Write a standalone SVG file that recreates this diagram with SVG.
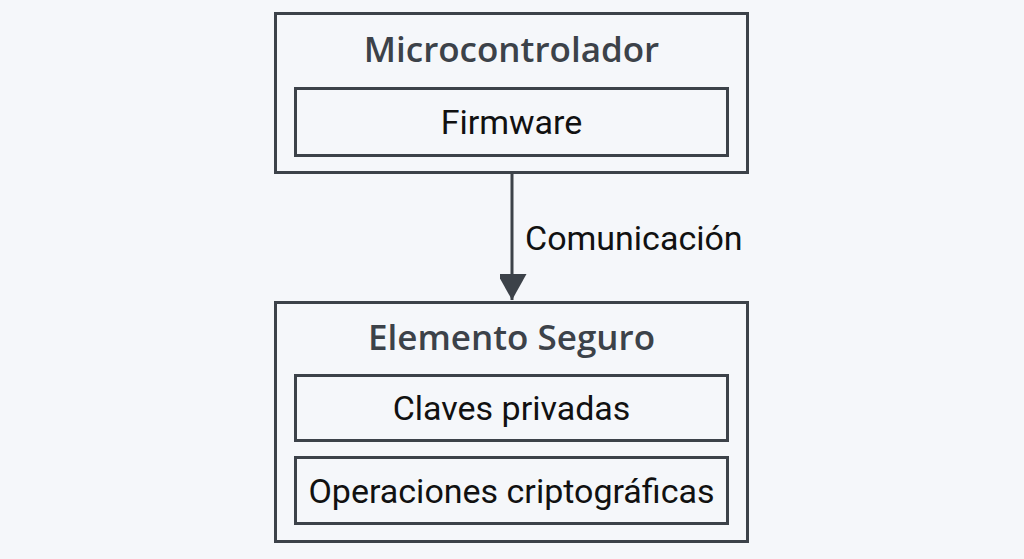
<svg xmlns="http://www.w3.org/2000/svg" width="1024" height="559" viewBox="0 0 1024 559">
<defs>
<style>
.box{fill:none;stroke:#3c4249;stroke-width:3}
.title{font-family:"Open Sans","Noto Sans",sans-serif;font-size:35px;font-weight:600;fill:#3c4249;text-anchor:middle}
.lbl{font-family:Roboto,"Liberation Sans",sans-serif;font-size:34px;fill:#111111;text-anchor:middle}
.edge{font-family:Roboto,"Liberation Sans",sans-serif;font-size:34px;fill:#111111}
</style>
<marker id="arr" markerWidth="29" markerHeight="27" refX="26" refY="14.5" orient="auto" markerUnits="userSpaceOnUse">
<path d="M0,0 L26,14.5 L0,29 Z" fill="#3c4249"/>
</marker>
</defs>
<rect width="1024" height="559" fill="#f5f7fa"/>
<g id="microcontrolador">
<rect class="box" x="275.5" y="13.5" width="472" height="159"/>
<text class="title" x="511.5" y="62">Microcontrolador</text>
</g>
<g id="firmware">
<rect class="box" x="295.5" y="88.5" width="432" height="67"/>
<text class="lbl" x="511.5" y="134">Firmware</text>
</g>
<g id="elemento-seguro">
<rect class="box" x="275.5" y="302.5" width="472" height="239"/>
<text class="title" x="511.5" y="350">Elemento Seguro</text>
</g>
<g id="claves">
<rect class="box" x="295.5" y="375.5" width="432" height="65"/>
<text class="lbl" x="511.5" y="420">Claves privadas</text>
</g>
<g id="operaciones">
<rect class="box" x="295.5" y="457.5" width="432" height="66"/>
<text class="lbl" x="511.5" y="503">Operaciones criptográficas</text>
</g>
<g id="connectors">
<line x1="512" y1="173" x2="512" y2="300" stroke="#3c4249" stroke-width="3" marker-end="url(#arr)"/>
<text class="edge" x="525" y="250">Comunicación</text>
</g>
</svg>
